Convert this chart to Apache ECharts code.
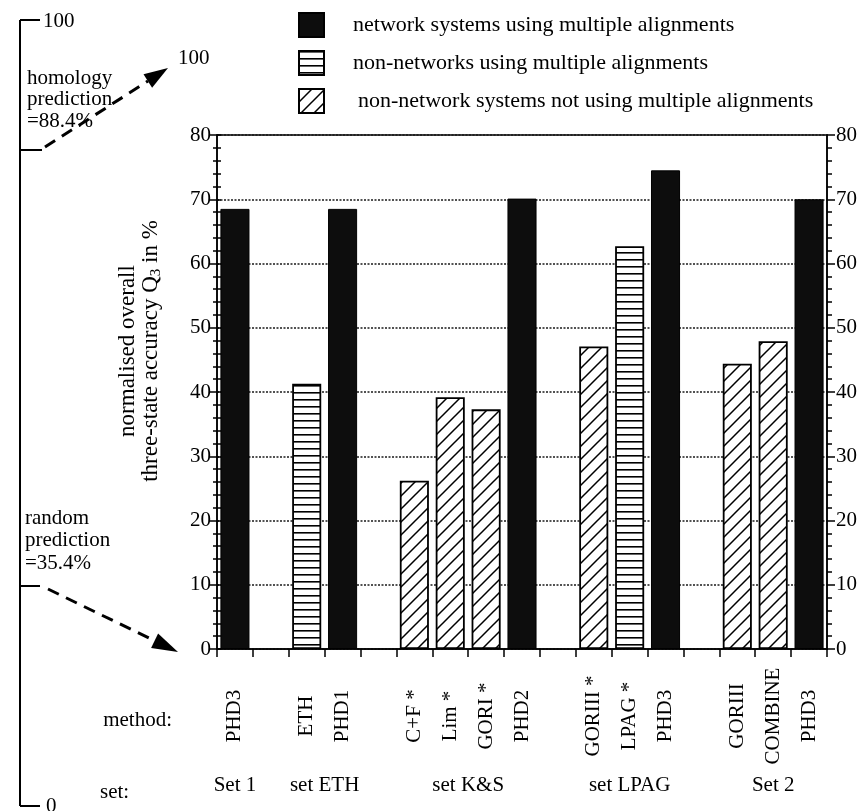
<!DOCTYPE html>
<html><head><meta charset="utf-8">
<script src="https://cdn.jsdelivr.net/npm/echarts@6/dist/echarts.min.js"></script>
<style>html,body{margin:0;padding:0;background:#fff}#c{width:861px;height:811px}</style>
</head><body><div id="c"></div>
<script>
// ---- data ----
const categories = ['PHD3','','ETH','PHD1','','C+F *','Lim *','GORI *','PHD2','','GORIII *','LPAG *','PHD3','','GORIII','COMBINE','PHD3'];
const networkMA      = [68.5,null,null,68.5,null,null,null,null,70.1,null,null,null,74.5,null,null,null,70.0];
const nonNetworkMA   = [null,null,41.3,null,null,null,null,null,null,null,null,62.7,null,null,null,null,null];
const nonNetworkNoMA = [null,null,null,null,null,26.2,39.2,37.3,null,null,47.1,null,null,null,44.4,47.9,null];
const seriesNames = ['network systems using multiple alignments','non-networks using multiple alignments','non-network systems not using multiple alignments'];
const setNames = ['Set 1','set ETH','set K&S','set LPAG','Set 2'];
const setRanges = [[0,0],[2,3],[5,8],[10,12],[14,16]];
const yMin = 0, yMax = 80, yStep = 10;
const leftScaleLabels = ['100','0'];
const homologyText = ['homology','prediction','=88.4%'];
const randomText = ['random','prediction','=35.4%'];

const FONT = '"Liberation Serif", "Times New Roman", serif';
const FS = 21;

function hPattern(){
  const c=document.createElement('canvas');c.width=8;c.height=7;
  const g=c.getContext('2d');g.fillStyle='#fff';g.fillRect(0,0,8,7);
  g.fillStyle='#000';g.fillRect(0,0,8,1.6);return c;
}
function dPattern(){
  const s=13;const c=document.createElement('canvas');c.width=s;c.height=s;
  const g=c.getContext('2d');g.fillStyle='#fff';g.fillRect(0,0,s,s);
  g.strokeStyle='#000';g.lineWidth=1.5;g.beginPath();
  g.moveTo(-1,s+1);g.lineTo(s+1,-1);
  g.moveTo(-2,2);g.lineTo(2,-2);
  g.moveTo(s-2,s+2);g.lineTo(s+2,s-2);
  g.stroke();return c;
}

const chart = echarts.init(document.getElementById('c'), null, {renderer:'canvas'});
const yCommon = {type:'value', min:yMin, max:yMax, interval:yStep};
const gridRect = {left:217, right:34, top:135, bottom:162};
const option = {
  animation:false,
  backgroundColor:'#fff',
  textStyle:{fontFamily:FONT, color:'#000'},
  grid:[
    Object.assign({show:true, borderColor:'#000', borderWidth:1.5, backgroundColor:'transparent'}, gridRect),
    Object.assign({show:false}, gridRect)
  ],
  legend:{
    orient:'vertical', left:298, top:12, itemWidth:25, itemHeight:24, itemGap:12, padding:0,
    icon:'rect',
    textStyle:{fontFamily:FONT, fontSize:22, color:'#000', padding:[0,0,0,24]},
    data:[
      {name:seriesNames[0]},
      {name:seriesNames[1]},
      {name:seriesNames[2], textStyle:{padding:[0,0,0,29]}}
    ]
  },
  xAxis:[{
    type:'category', data:categories, gridIndex:0,
    axisLine:{lineStyle:{color:'#000', width:1.5}},
    axisTick:{show:true, interval:0, length:8, lineStyle:{color:'#000', width:1.5}},
    axisLabel:{interval:0, rotate:90, align:'center', verticalAlign:'middle', margin:67,
      fontFamily:FONT, fontSize:FS, color:'#000'},
    splitLine:{show:false}
  },{
    type:'category', data:categories, gridIndex:1, show:false
  }],
  yAxis:[
    Object.assign({}, yCommon, {
      gridIndex:0, position:'left',
      axisLine:{show:true, lineStyle:{color:'#000', width:1.5}},
      axisTick:{show:true, length:7, lineStyle:{color:'#000', width:1.5}},
      minorTick:{show:true, splitNumber:5, length:4, lineStyle:{color:'#000', width:1.5}},
      axisLabel:{margin:6, fontFamily:FONT, fontSize:FS, color:'#000'},
      splitLine:{show:true, lineStyle:{color:'#1a1a1a', width:1.7, type:[2,1.5]}}
    }),
    Object.assign({}, yCommon, {
      gridIndex:0, position:'right',
      axisLine:{show:true, lineStyle:{color:'#000', width:1.5}},
      axisTick:{show:true, length:8, lineStyle:{color:'#000', width:1.5}},
      minorTick:{show:true, splitNumber:5, length:5, lineStyle:{color:'#000', width:1.5}},
      axisLabel:{margin:9, fontFamily:FONT, fontSize:FS, color:'#000'},
      splitLine:{show:false}
    }),
    Object.assign({}, yCommon, {
      gridIndex:1, position:'left',
      axisLine:{show:false},
      axisTick:{show:true, inside:true, length:4, lineStyle:{color:'#000', width:1.5}},
      minorTick:{show:true, splitNumber:5, length:4, lineStyle:{color:'#000', width:1.5}},
      axisLabel:{show:false},
      splitLine:{show:false}
    })
  ],
  series:[
    {name:seriesNames[0], type:'bar', stack:'all', data:networkMA, barCategoryGap:'19%',
      itemStyle:{color:'#0d0d0d', borderColor:'#000', borderWidth:1}},
    {name:seriesNames[1], type:'bar', stack:'all', data:nonNetworkMA, barCategoryGap:'19%',
      itemStyle:{color:{image:hPattern(), repeat:'repeat'}, borderColor:'#000', borderWidth:1.8}},
    {name:seriesNames[2], type:'bar', stack:'all', data:nonNetworkNoMA, barCategoryGap:'19%',
      itemStyle:{color:{image:dPattern(), repeat:'repeat'}, borderColor:'#000', borderWidth:1.8}}
  ]
};
chart.setOption(option);

// ---- annotations (set labels placed through the category scale) ----
const g = [];
const txt = (x,y,text,extra) => ({type:'text', x:x, y:y, silent:true,
  style:Object.assign({text:text, font:FS+'px '+FONT, fill:'#000', textAlign:'left', textVerticalAlign:'middle'}, extra||{})});
setRanges.forEach((r,i) => {
  const x0 = chart.convertToPixel({xAxisIndex:0}, r[0]);
  const x1 = chart.convertToPixel({xAxisIndex:0}, r[1]);
  g.push(txt((x0+x1)/2, 785, setNames[i], {textAlign:'center'}));
});
g.push(txt(172, 720, 'method:', {textAlign:'right'}));
g.push(txt(100, 792, 'set:'));
// y axis title
const YF = 23;
g.push({type:'text', x:128, y:351, rotation:Math.PI/2, silent:true,
  style:{text:'normalised overall', font:YF+'px '+FONT, fill:'#000', textAlign:'center', textVerticalAlign:'middle'}});
g.push({type:'text', x:151, y:351, rotation:Math.PI/2, silent:true,
  style:{text:'three-state accuracy Q{sub|3} in %', font:YF+'px '+FONT, fill:'#000', textAlign:'center', textVerticalAlign:'middle',
    rich:{sub:{fontSize:15, fontFamily:FONT, padding:[10,0,0,0]}}}});
// "100" above the main axis
g.push(txt(178, 58, '100'));
// left reference scale
const L = {stroke:'#000', lineWidth:2};
g.push({type:'line', shape:{x1:20,y1:20,x2:20,y2:806}, style:L, silent:true});
[[20,40],[150,42],[586,40],[806,40]].forEach(t => g.push({type:'line', shape:{x1:20,y1:t[0],x2:t[1],y2:t[0]}, style:L, silent:true}));
g.push(txt(43, 21, leftScaleLabels[0]));
g.push(txt(46, 806, leftScaleLabels[1]));
homologyText.forEach((s,i) => g.push(txt(27, 78+i*21.5, s)));
randomText.forEach((s,i) => g.push(txt(25, 518+i*22.5, s)));
// dashed arrows
const D = {stroke:'#000', lineWidth:3, lineDash:[12,8]};
g.push({type:'line', shape:{x1:45,y1:147,x2:148,y2:81}, style:D, silent:true});
g.push({type:'polygon', shape:{points:[[168,68],[152.1,87.7],[143.5,74.3]]}, style:{fill:'#000'}, silent:true});
g.push({type:'line', shape:{x1:48,y1:589,x2:155,y2:641}, style:D, silent:true});
g.push({type:'polygon', shape:{points:[[178,652],[151.1,647.9],[158.1,633.5]]}, style:{fill:'#000'}, silent:true});
chart.setOption({graphic:g});
</script></body></html>
